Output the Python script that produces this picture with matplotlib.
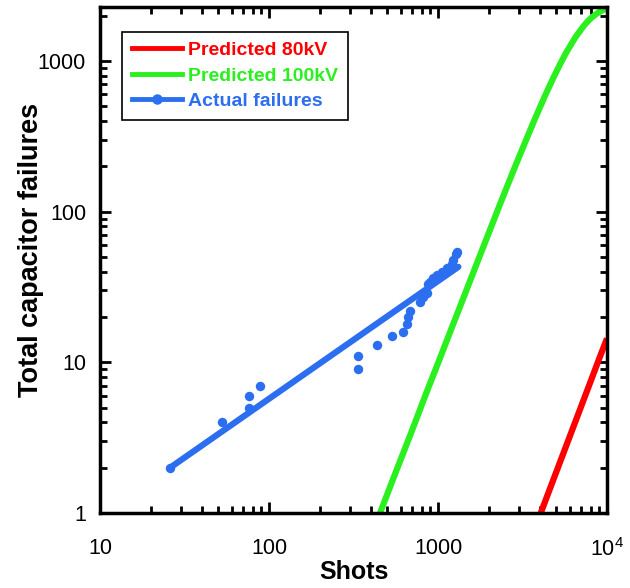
import matplotlib
matplotlib.use("Agg")
from matplotlib import pyplot as plt
from matplotlib.lines import Line2D
from matplotlib.ticker import FixedLocator, FixedFormatter, LogLocator, NullFormatter

plt.rcParams['font.family'] = ['Liberation Sans', 'DejaVu Sans']
plt.rcParams['mathtext.default'] = 'regular'

# actual failures (shots, cumulative failures)
actual_x = [26, 53, 76, 76, 88, 337, 337, 434, 532, 618, 653, 667, 683,
            782, 818, 857, 876, 900, 938, 982, 1050, 1125, 1205, 1230, 1270, 1290]
actual_y = [2, 4, 5, 6, 7, 9, 11, 13, 15, 16, 18, 20, 22,
            25, 27, 29, 33, 34, 36, 38, 40, 42, 45, 48, 52, 54]

# fitted line through actual failures
fit_x = [26, 1320]
fit_y = [2, 43]

# predicted 100kV
pred100_x = [400, 454, 550, 700, 850, 1019, 1200, 1400, 1700, 2000, 2328, 2800,
             3300, 3750, 4300, 4810, 5300, 5770, 6500, 7240, 7600, 8000, 8690,
             9300, 9650, 10000]
pred100_y = [0.69, 1, 1.75, 3.5, 6.2, 10.4, 16.7, 26, 45.5, 72.5, 112, 188,
             294, 414, 588, 771, 961, 1150, 1434, 1695, 1805, 1913, 2062,
             2155, 2195, 2224]

# predicted 80kV
pred80_x = [3500, 4055, 5000, 6000, 7000, 8000, 9000, 10000]
pred80_y = [0.65, 1, 1.86, 3.19, 5.03, 7.47, 10.6, 14.4]

red = '#ff0000'
green = '#2af01f'
blue = '#2b6ff0'

fig = plt.figure(figsize=(6.3, 5.88), dpi=100)
ax = fig.add_axes([100/630, 75/588, 507/630, 506/588])

ax.plot(pred80_x, pred80_y, color=red, lw=4.5, solid_capstyle='butt')
ax.plot(pred100_x, pred100_y, color=green, lw=4.5, solid_capstyle='butt',
        solid_joinstyle='round')
ax.plot(fit_x, fit_y, color=blue, lw=4.5, solid_capstyle='round')
ax.plot(actual_x, actual_y, 'o', color=blue, ms=6.8, mec='none')

ax.set_xscale('log')
ax.set_yscale('log')
ax.set_xlim(10, 1e4)
ax.set_ylim(1, 2280)

ax.xaxis.set_major_locator(FixedLocator([10, 100, 1000, 10000]))
ax.xaxis.set_major_formatter(FixedFormatter(['10', '100', '1000', '10$^4$']))
ax.yaxis.set_major_locator(FixedLocator([1, 10, 100, 1000]))
ax.yaxis.set_major_formatter(FixedFormatter(['1', '10', '100', '1000']))
ax.xaxis.set_minor_locator(LogLocator(base=10, subs=range(2, 10)))
ax.yaxis.set_minor_locator(LogLocator(base=10, subs=range(2, 10)))
ax.xaxis.set_minor_formatter(NullFormatter())
ax.yaxis.set_minor_formatter(NullFormatter())

ax.tick_params(which='both', direction='in', top=True, right=True, width=2, labelsize=15.5)
ax.tick_params(which='major', length=8)
ax.tick_params(which='minor', length=5)
ax.tick_params(axis='x', which='major', pad=18)
ax.tick_params(axis='y', which='major', pad=10)
for s in ax.spines.values():
    s.set_linewidth(2.5)

ax.set_xlabel('Shots', fontsize=18, fontweight='bold', labelpad=-1)
ax.set_ylabel('Total capacitor failures', fontsize=19.5, fontweight='bold')
ax.yaxis.set_label_coords(-0.11, 0.52)

handles = [
    Line2D([], [], color=red, lw=3.5),
    Line2D([], [], color=green, lw=3.5),
    Line2D([], [], color=blue, lw=3.5, marker='o', ms=6.5, markevery=[1]),
]
handles[2].set_data([0, 0.5, 1], [0, 0, 0])
leg = ax.legend(handles, ['Predicted 80kV', 'Predicted 100kV', 'Actual failures'],
                loc='upper left', bbox_to_anchor=(0.043, 0.951), fancybox=False,
                framealpha=1, edgecolor='black', handlelength=2.6, handletextpad=0.3,
                borderpad=0.5, labelspacing=0.4, borderaxespad=0,
                prop={'size': 14, 'weight': 'bold'})
leg.get_frame().set_linewidth(1.2)
for t, c in zip(leg.get_texts(), [red, green, blue]):
    t.set_color(c)

fig.savefig('out.png', dpi=100)
